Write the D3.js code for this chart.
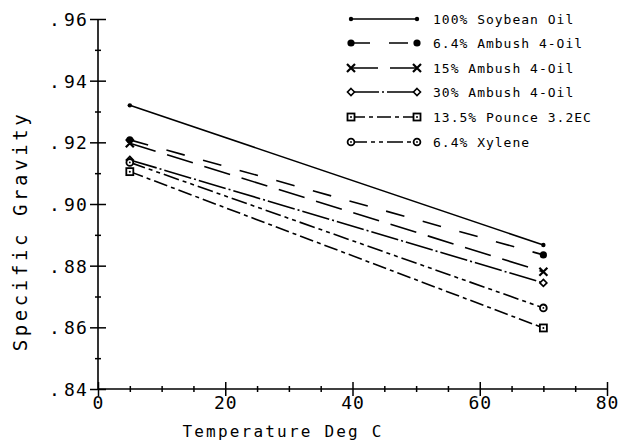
<!DOCTYPE html>
<html>
<head>
<meta charset="utf-8">
<script src="https://cdn.jsdelivr.net/npm/d3@7"></script>
<style>
  body { margin: 0; background: #fff; }
  svg { display: block; }
  text { font-family: "DejaVu Sans Mono", "Liberation Mono", monospace; fill: #000; }
</style>
</head>
<body>
<svg id="chart" width="619" height="442"></svg>
<script>
// Specific gravity of oil carriers at two temperatures
const temperatures = [5, 70];
const seriesNames = [
  "100% Soybean Oil",
  "6.4% Ambush 4-Oil",
  "15% Ambush 4-Oil",
  "30% Ambush 4-Oil",
  "13.5% Pounce 3.2EC",
  "6.4% Xylene"
];
const soybeanOil = [0.9320, 0.8867];
const ambush64   = [0.9208, 0.8835];
const ambush15   = [0.9197, 0.8780];
const ambush30   = [0.9143, 0.8744];
const pounce135  = [0.9105, 0.8598];
const xylene64   = [0.9135, 0.8663];

const xTicks = [0, 20, 40, 60, 80];
const xMinorTicks = [5, 10, 15, 25, 30, 35, 45, 50, 55, 65, 70, 75];
const yTicks = [0.84, 0.86, 0.88, 0.90, 0.92, 0.94, 0.96];
const yTickLabels = [".84", ".86", ".88", ".90", ".92", ".94", ".96"];
const yMinorTicks = [0.85, 0.87, 0.89, 0.91, 0.93, 0.95];

const seriesValues = [soybeanOil, ambush64, ambush15, ambush30, pounce135, xylene64];

// line dash and marker for each series
const styles = [
  { dash: null,            marker: "dot" },
  { dash: "19,19",         marker: "bigdot" },
  { dash: "27,12",         marker: "cross" },
  { dash: "28,3,2,3",      marker: "diamond" },
  { dash: "14,4,4,4",      marker: "square" },
  { dash: "16,4,4,4,4,4",  marker: "circle" }
];

const svg = d3.select("#chart");
const x = d3.scaleLinear().domain([0, 80]).range([98, 607]);
const y = d3.scaleLinear().domain([0.84, 0.96]).range([389, 19]);

const ink = "#000";

// ---- axes ----
const yAxisG = svg.append("g").attr("transform", `translate(${x(0)},0)`)
  .call(d3.axisLeft(y).tickValues(yTicks).tickSize(8).tickFormat(""));
yAxisG.select(".domain").remove();
yAxisG.selectAll(".tick line").attr("x1", 8).attr("x2", -8)
  .attr("stroke", ink).attr("stroke-width", 1.5);
// labels: leading point set a little apart from the digits
yAxisG.selectAll(".tick text").each(function (d, i) {
  const label = yTickLabels[i];
  const t = d3.select(this)
    .attr("x", -10).attr("dy", "0.36em")
    .attr("text-anchor", "end")
    .style("font-size", "18px").style("letter-spacing", "1.2px");
  t.text(null);
  t.append("tspan").text(label.slice(0, 1));
  t.append("tspan").attr("dx", 3).text(label.slice(1));
});

const yMinorG = svg.append("g").attr("transform", `translate(${x(0)},0)`)
  .call(d3.axisLeft(y).tickValues(yMinorTicks).tickSize(3).tickFormat(""));
yMinorG.select(".domain").remove();
yMinorG.selectAll(".tick line").attr("x1", 3).attr("x2", -3)
  .attr("stroke", ink).attr("stroke-width", 1.5);

const xAxisG = svg.append("g").attr("transform", `translate(0,${y(0.84)})`)
  .call(d3.axisBottom(x).tickValues(xTicks).tickSize(7).tickFormat(d3.format("d")));
xAxisG.select(".domain").remove();
xAxisG.selectAll(".tick line").attr("y1", -7).attr("y2", 7)
  .attr("stroke", ink).attr("stroke-width", 1.5);
xAxisG.selectAll(".tick text")
  .attr("y", 20).attr("dy", 0)
  .style("font-size", "18px").style("letter-spacing", "1px");

const xMinorG = svg.append("g").attr("transform", `translate(0,${y(0.84)})`)
  .call(d3.axisBottom(x).tickValues(xMinorTicks).tickSize(3).tickFormat(""));
xMinorG.select(".domain").remove();
xMinorG.selectAll(".tick line").attr("y1", -3).attr("y2", 3)
  .attr("stroke", ink).attr("stroke-width", 1.5);

// axis lines
svg.append("line").attr("x1", x(0)).attr("x2", x(0))
  .attr("y1", y(0.96)).attr("y2", y(0.84))
  .attr("stroke", ink).attr("stroke-width", 1.6);
svg.append("line").attr("x1", x(0)).attr("x2", x(80))
  .attr("y1", y(0.84)).attr("y2", y(0.84))
  .attr("stroke", ink).attr("stroke-width", 1.6);

// axis titles
svg.append("text")
  .attr("x", 283).attr("y", 437)
  .attr("text-anchor", "middle")
  .style("font-size", "16px").style("letter-spacing", "2.2px")
  .text("Temperature Deg C");

svg.append("text")
  .attr("transform", "translate(27,231) rotate(-90)")
  .attr("text-anchor", "middle")
  .style("font-size", "19px").style("letter-spacing", "3.6px")
  .text("Specific Gravity");

// ---- markers ----
function drawMarker(g, type, cx, cy) {
  switch (type) {
    case "dot":
      g.append("circle").attr("cx", cx).attr("cy", cy).attr("r", 2.2).attr("fill", ink);
      break;
    case "bigdot":
      g.append("circle").attr("cx", cx).attr("cy", cy).attr("r", 3.6).attr("fill", ink);
      break;
    case "cross":
      g.append("path")
        .attr("d", `M${cx - 4},${cy - 4}L${cx + 4},${cy + 4}M${cx - 4},${cy + 4}L${cx + 4},${cy - 4}`)
        .attr("stroke", ink).attr("stroke-width", 2.2).attr("fill", "none");
      break;
    case "diamond":
      g.append("path")
        .attr("d", `M${cx},${cy - 3.5}L${cx + 3.5},${cy}L${cx},${cy + 3.5}L${cx - 3.5},${cy}Z`)
        .attr("stroke", ink).attr("stroke-width", 1.6).attr("fill", "#fff");
      break;
    case "square":
      g.append("rect").attr("x", cx - 3.5).attr("y", cy - 3.5)
        .attr("width", 7).attr("height", 7)
        .attr("stroke", ink).attr("stroke-width", 1.8).attr("fill", "#fff");
      g.append("circle").attr("cx", cx).attr("cy", cy).attr("r", 1).attr("fill", ink);
      break;
    case "circle":
      g.append("circle").attr("cx", cx).attr("cy", cy).attr("r", 3.4)
        .attr("stroke", ink).attr("stroke-width", 1.8).attr("fill", "#fff");
      g.append("circle").attr("cx", cx).attr("cy", cy).attr("r", 0.9).attr("fill", ink);
      break;
  }
}

// ---- series lines ----
const line = d3.line().x(d => x(d[0])).y(d => y(d[1]));
const plot = svg.append("g");
seriesValues.forEach((vals, i) => {
  const pts = temperatures.map((t, k) => [t, vals[k]]);
  const p = plot.append("path").datum(pts)
    .attr("d", line)
    .attr("fill", "none").attr("stroke", ink).attr("stroke-width", 1.6);
  if (styles[i].dash) p.attr("stroke-dasharray", styles[i].dash);
});
seriesValues.forEach((vals, i) => {
  temperatures.forEach((t, k) => drawMarker(plot, styles[i].marker, x(t), y(vals[k])));
});

// ---- legend ----
const legendRows = [19, 43, 68, 92, 117, 142];
const legend = svg.append("g");
seriesNames.forEach((name, i) => {
  const ly = legendRows[i];
  const l = legend.append("line")
    .attr("x1", 351).attr("x2", 417).attr("y1", ly).attr("y2", ly)
    .attr("stroke", ink).attr("stroke-width", 1.4);
  if (styles[i].dash) l.attr("stroke-dasharray", styles[i].dash);
  drawMarker(legend, styles[i].marker, 351, ly);
  drawMarker(legend, styles[i].marker, 417, ly);
  legend.append("text")
    .attr("x", 433).attr("y", ly).attr("dy", "0.36em")
    .style("font-size", "13px").style("letter-spacing", "1px")
    .text(name);
});
</script>
</body>
</html>
